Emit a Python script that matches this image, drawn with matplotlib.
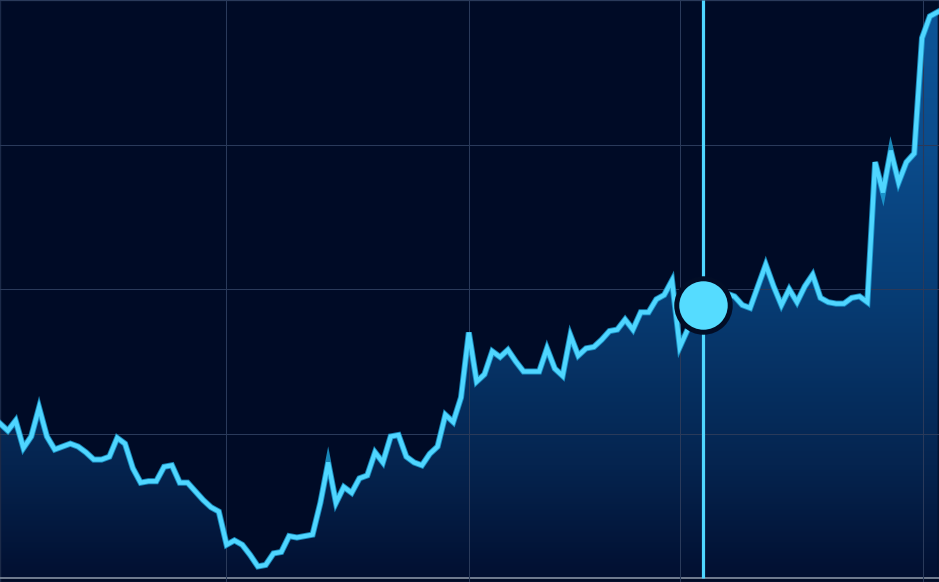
import numpy as np
import matplotlib
matplotlib.use("Agg")
import matplotlib.pyplot as plt
from matplotlib.colors import LinearSegmentedColormap
from matplotlib.patches import PathPatch

# ---- data ----
values = [
    110.7, 110.2, 110.9, 109.0, 109.8, 111.8, 109.8, 108.9, 109.1, 109.3,
    109.1, 108.7, 108.2, 108.2, 108.4, 109.7, 109.3, 107.6, 106.6, 106.7,
    106.7, 107.7, 107.8, 106.6, 106.6, 106.0, 105.4, 104.9, 104.6, 102.3,
    102.6, 102.3, 101.6, 100.8, 100.9, 101.7, 101.8, 102.9, 102.8, 102.9,
    103.0, 105.2, 108.0, 105.2, 106.3, 105.9, 106.9, 107.1, 108.7, 108.0,
    109.8, 109.9, 108.4, 108.0, 107.8, 108.6, 109.1, 111.3, 110.8, 112.5,
    117.0, 113.6, 114.1, 115.7, 115.3, 115.8, 115.0, 114.3, 114.3, 114.3,
    115.9, 114.5, 114.0, 116.8, 115.4, 115.9, 116.0, 116.5, 117.1, 117.2,
    117.9, 117.2, 118.4, 118.4, 119.3, 119.6, 120.6, 116.0, 117.2, 118.2,
    118.9, 119.3, 119.4, 119.7, 119.5, 118.9, 118.7, 120.2, 121.7, 120.2,
    118.9, 120.0, 119.1, 120.2, 121.0, 119.4, 119.1, 119.0, 119.0, 119.4,
    119.5, 119.1, 128.8, 126.7, 129.6, 127.4, 128.8, 129.4, 137.4, 138.9,
    139.2,
]
x = np.arange(len(values))
y_gridlines = [100, 110, 120, 130, 140]
x_gridlines = [28.92, 60.02, 87.02, 118.12]
cursor_index = 90

# ---- style ----
BG = "#000b26"
LINE = "#4fd6ff"
GRID = "#2a3a5a"

XMIN, XMAX = 0, 120.17
YMIN, YMAX = 99.72, 140.03

fig = plt.figure(figsize=(9.39, 5.82), dpi=100)
fig.patch.set_facecolor(BG)
ax = fig.add_axes([0, 0, 1, 1])
ax.set_facecolor(BG)
ax.set_xlim(XMIN, XMAX)
ax.set_ylim(YMIN, YMAX)

# grid
for gy in y_gridlines:
    col = "#7a8598" if gy == y_gridlines[0] else GRID
    lw = 1.3 if gy == y_gridlines[0] else 0.75
    ax.axhline(gy, color=col, lw=lw, zorder=3)
for gx in x_gridlines:
    ax.axvline(gx, color=GRID, lw=0.75, zorder=3)

# gradient fill under line
cmap = LinearSegmentedColormap.from_list(
    "fill",
    [(0.0, "#020f30"), (0.2, "#05244f"), (0.5, "#073d75"),
     (0.75, "#0b4c8c"), (1.0, "#0d5598")])
grad = np.linspace(0, 1, 256).reshape(-1, 1)
img = ax.imshow(grad, extent=[XMIN, XMAX, YMIN, YMAX], origin="lower",
                aspect="auto", cmap=cmap, zorder=2, interpolation="bicubic")
poly = ax.fill_between(x, values, y_gridlines[0], color="none", lw=0)
patch = PathPatch(poly.get_paths()[0], transform=ax.transData,
                  facecolor="none", edgecolor="none")
ax.add_patch(patch)
img.set_clip_path(patch)

# line
ax.plot(x, values, color="#1fa6dc", lw=4.4, solid_joinstyle="miter",
        zorder=4, alpha=0.8)
ax.plot(x, values, color=LINE, lw=3.1, solid_joinstyle="miter", zorder=5)

# cursor
ax.vlines(cursor_index, y_gridlines[0], YMAX, color=LINE, lw=2.3, zorder=6)
ax.plot([cursor_index], [values[cursor_index]], marker="o", markersize=38.5,
        markerfacecolor="#55dcff", markeredgecolor="#020d26",
        markeredgewidth=3.6, zorder=7)

for s in ax.spines.values():
    s.set_color("#1c2a48")
    s.set_linewidth(1.0)
ax.set_xticks([])
ax.set_yticks([])

fig.savefig("out.png", dpi=100, facecolor=BG)
